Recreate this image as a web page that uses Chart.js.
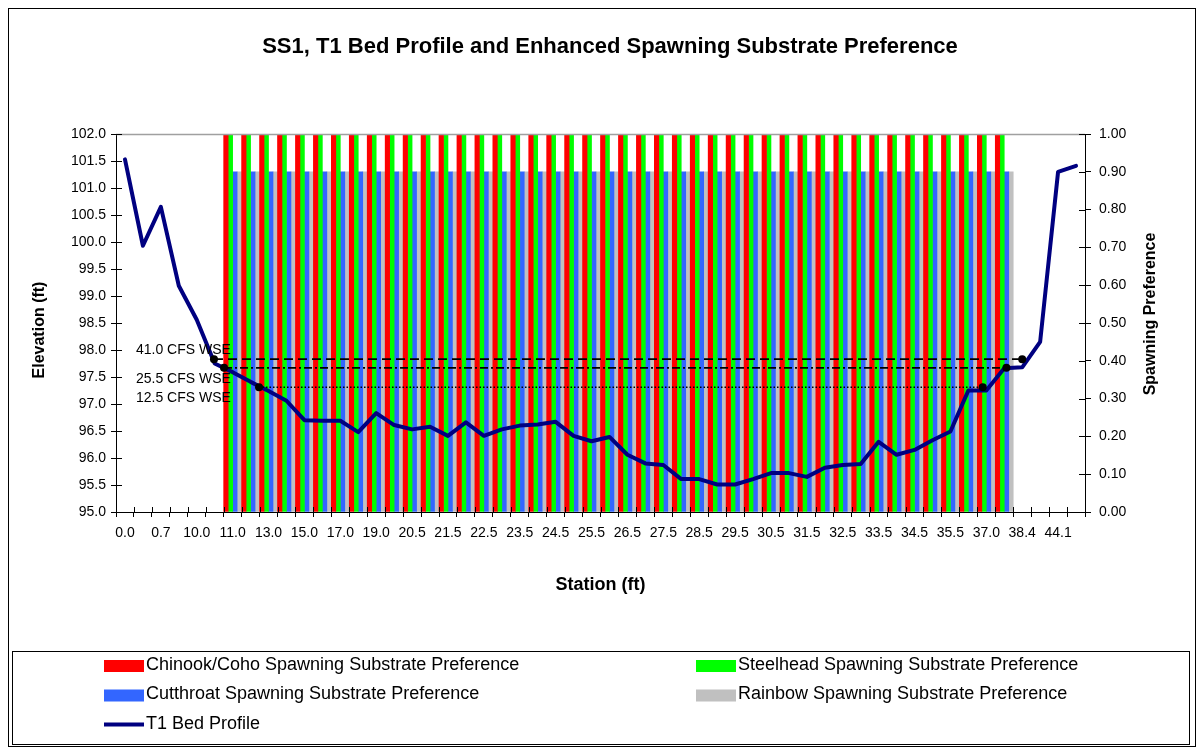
<!DOCTYPE html>
<html><head><meta charset="utf-8">
<script src="https://cdn.jsdelivr.net/npm/chart.js@4.4.1/dist/chart.umd.min.js"></script>
<style>
html,body{margin:0;padding:0;background:#fff;}
#wrap{position:relative;width:1203px;height:749px;}
</style></head><body>
<div id="wrap"><canvas id="c" width="1203" height="749"></canvas></div>
<script>
const FONT = '"Liberation Sans", Arial, Helvetica, sans-serif';

const stations = [0.0, 0.3, 0.7, 5.0, 10.0, 10.5, 11.0, 12.0, 13.0, 14.0,
  15.0, 16.0, 17.0, 18.0, 19.0, 20.0, 20.5, 21.0, 21.5, 22.0,
  22.5, 23.0, 23.5, 24.0, 24.5, 25.0, 25.5, 26.0, 26.5, 27.0,
  27.5, 28.0, 28.5, 29.0, 29.5, 30.0, 30.5, 31.0, 31.5, 32.0,
  32.5, 33.0, 33.5, 34.0, 34.5, 35.0, 35.5, 36.0, 37.0, 37.5,
  38.4, 41.0, 44.1, 46.0];

const bedProfile = [101.53, 99.93, 100.65, 99.19, 98.56, 97.75, 97.59, 97.41, 97.24, 97.06,
  96.70, 96.69, 96.69, 96.48, 96.83, 96.61, 96.53, 96.58, 96.41, 96.66,
  96.41, 96.53, 96.60, 96.62, 96.67, 96.41, 96.31, 96.39, 96.06, 95.90,
  95.87, 95.61, 95.61, 95.51, 95.51, 95.61, 95.72, 95.72, 95.65, 95.82,
  95.87, 95.89, 96.30, 96.06, 96.15, 96.33, 96.49, 97.25, 97.25, 97.66,
  97.68, 98.15, 101.30, 101.41];

const chinookPref = [null, null, null, null, null, null, 1, 1, 1, 1,
  1, 1, 1, 1, 1, 1, 1, 1, 1, 1,
  1, 1, 1, 1, 1, 1, 1, 1, 1, 1,
  1, 1, 1, 1, 1, 1, 1, 1, 1, 1,
  1, 1, 1, 1, 1, 1, 1, 1, 1, 1,
  null, null, null, null];
const steelheadPref = [null, null, null, null, null, null, 1, 1, 1, 1,
  1, 1, 1, 1, 1, 1, 1, 1, 1, 1,
  1, 1, 1, 1, 1, 1, 1, 1, 1, 1,
  1, 1, 1, 1, 1, 1, 1, 1, 1, 1,
  1, 1, 1, 1, 1, 1, 1, 1, 1, 1,
  null, null, null, null];
const cutthroatPref = [null, null, null, null, null, null, 0.9, 0.9, 0.9, 0.9,
  0.9, 0.9, 0.9, 0.9, 0.9, 0.9, 0.9, 0.9, 0.9, 0.9,
  0.9, 0.9, 0.9, 0.9, 0.9, 0.9, 0.9, 0.9, 0.9, 0.9,
  0.9, 0.9, 0.9, 0.9, 0.9, 0.9, 0.9, 0.9, 0.9, 0.9,
  0.9, 0.9, 0.9, 0.9, 0.9, 0.9, 0.9, 0.9, 0.9, 0.9,
  null, null, null, null];
const rainbowPref = [null, null, null, null, null, null, 0.9, 0.9, 0.9, 0.9,
  0.9, 0.9, 0.9, 0.9, 0.9, 0.9, 0.9, 0.9, 0.9, 0.9,
  0.9, 0.9, 0.9, 0.9, 0.9, 0.9, 0.9, 0.9, 0.9, 0.9,
  0.9, 0.9, 0.9, 0.9, 0.9, 0.9, 0.9, 0.9, 0.9, 0.9,
  0.9, 0.9, 0.9, 0.9, 0.9, 0.9, 0.9, 0.9, 0.9, 0.9,
  null, null, null, null];

// water surface elevations: x = position in station-index units (fractional), y = elevation (ft)
const wse41 = [{x: 4.96, y: 97.83}, {x: 50.0, y: 97.83}];
const wse25 = [{x: 5.52, y: 97.67}, {x: 49.12, y: 97.67}];
const wse12 = [{x: 7.47, y: 97.31}, {x: 47.8, y: 97.31}];

const elevTicks = {min: 95, max: 102, step: 0.5};
const prefTicks = {min: 0, max: 1, step: 0.1};

const TITLE = 'SS1, T1 Bed Profile and Enhanced Spawning Substrate Preference';

function vText(ctx, text, x, y, font) {
  ctx.save();
  ctx.translate(x, y);
  ctx.rotate(-Math.PI / 2);
  ctx.fillStyle = '#000';
  ctx.font = font;
  ctx.textAlign = 'center';
  ctx.textBaseline = 'middle';
  ctx.fillText(text, 0, 0);
  ctx.restore();
}

const frame = {
  id: 'frame',
  beforeDraw(chart) {
    const ctx = chart.ctx;
    ctx.save();
    ctx.fillStyle = '#fff';
    ctx.fillRect(0, 0, chart.width, chart.height);
    ctx.strokeStyle = '#000';
    ctx.lineWidth = 1;
    ctx.strokeRect(8.5, 8.5, 1187, 738);
    ctx.fillStyle = '#000';
    ctx.font = 'bold 22px ' + FONT;
    ctx.textAlign = 'center';
    ctx.textBaseline = 'middle';
    ctx.fillText(TITLE, 610, 47);
    ctx.restore();
  },
  afterDatasetsDraw(chart) {
    const ctx = chart.ctx;
    const a = chart.chartArea;
    ctx.save();
    // top border of plot area
    ctx.strokeStyle = '#a0a0a0';
    ctx.lineWidth = 1.5;
    ctx.beginPath();
    ctx.moveTo(a.left, a.top + 0.5);
    ctx.lineTo(a.right, a.top + 0.5);
    ctx.stroke();
    // inner tick marks (ticks cross the axes)
    ctx.strokeStyle = '#000';
    ctx.lineWidth = 1;
    const xs = chart.scales.x, ys = chart.scales.y, y2 = chart.scales.y2;
    const n = xs.ticks.length;
    const w = (xs.right - xs.left) / n;
    ctx.beginPath();
    for (let i = 0; i <= n; i++) {
      const px = Math.round(xs.left + i * w) + 0.5;
      ctx.moveTo(px, a.bottom);
      ctx.lineTo(px, a.bottom - 5);
    }
    ys.ticks.forEach(t => {
      const py = Math.round(ys.getPixelForValue(t.value)) + 0.5;
      ctx.moveTo(a.left, py); ctx.lineTo(a.left + 6, py);
    });
    y2.ticks.forEach(t => {
      const py = Math.round(y2.getPixelForValue(t.value)) + 0.5;
      ctx.moveTo(a.right, py); ctx.lineTo(a.right - 6, py);
    });
    ctx.stroke();
    // WSE labels
    ctx.fillStyle = '#000';
    ctx.font = '14px ' + FONT;
    ctx.textAlign = 'right';
    ctx.textBaseline = 'middle';
    chart.data.datasets.forEach((d, i) => {
      if (!d.wseLabel) return;
      const p = chart.getDatasetMeta(i).data[0];
      ctx.fillText(d.wseLabel, xs.getPixelForValue(5.9), p.y + d.labelDy);
    });
    ctx.restore();
  },
  afterDraw(chart) {
    const ctx = chart.ctx;
    vText(ctx, 'Elevation (ft)', 40, 330, 'bold 16px ' + FONT);
    vText(ctx, 'Spawning Preference', 1151, 314, 'bold 16px ' + FONT);
    // legend
    ctx.save();
    ctx.strokeStyle = '#000';
    ctx.lineWidth = 1;
    ctx.strokeRect(12.5, 651.5, 1177, 93);
    const items = chart.data.datasets.filter(d => d.inLegend);
    ctx.font = '18px ' + FONT;
    ctx.textAlign = 'left';
    ctx.textBaseline = 'middle';
    items.forEach((d, i) => {
      const col = i % 2, row = Math.floor(i / 2);
      const x = col ? 696 : 104;
      const y = 665 + row * 29.5;
      if (d.type === 'line') {
        ctx.strokeStyle = d.borderColor;
        ctx.lineWidth = 4;
        ctx.beginPath();
        ctx.moveTo(x, y + 0.5);
        ctx.lineTo(x + 40, y + 0.5);
        ctx.stroke();
      } else {
        ctx.fillStyle = d.backgroundColor;
        ctx.fillRect(x, y - 5, 40, 12);
      }
      ctx.fillStyle = '#000';
      ctx.fillText(d.label, x + 42, y);
    });
    ctx.restore();
  }
};

const tickFont = {family: FONT, size: 14};
const wseStyle = {type: 'line', parsing: false, borderColor: '#000', backgroundColor: '#000',
  pointRadius: 4, pointBackgroundColor: '#000', pointBorderWidth: 0, xAxisID: 'x', yAxisID: 'y', order: 1};

new Chart(document.getElementById('c'), {
  data: {
    labels: stations.map(s => s.toFixed(1)),
    datasets: [
      {type: 'bar', label: 'Chinook/Coho Spawning Substrate Preference', data: chinookPref,
        backgroundColor: '#FF0000', yAxisID: 'y2', xAxisID: 'x', order: 3, inLegend: true,
        barPercentage: 1, categoryPercentage: 1, borderWidth: 0},
      {type: 'bar', label: 'Steelhead Spawning Substrate Preference', data: steelheadPref,
        backgroundColor: '#00FF00', yAxisID: 'y2', xAxisID: 'x', order: 3, inLegend: true,
        barPercentage: 1, categoryPercentage: 1, borderWidth: 0},
      {type: 'bar', label: 'Cutthroat Spawning Substrate Preference', data: cutthroatPref,
        backgroundColor: '#3366FF', yAxisID: 'y2', xAxisID: 'x', order: 3, inLegend: true,
        barPercentage: 1, categoryPercentage: 1, borderWidth: 0},
      {type: 'bar', label: 'Rainbow Spawning Substrate Preference', data: rainbowPref,
        backgroundColor: '#C0C0C0', yAxisID: 'y2', xAxisID: 'x', order: 3, inLegend: true,
        barPercentage: 1, categoryPercentage: 1, borderWidth: 0},
      {type: 'line', label: 'T1 Bed Profile', data: bedProfile, borderColor: '#000080',
        backgroundColor: '#000080', borderWidth: 4, pointRadius: 0, tension: 0,
        yAxisID: 'y', xAxisID: 'x', order: 2, inLegend: true, borderJoinStyle: 'round', borderCapStyle: 'round'},
      Object.assign({}, wseStyle, {label: '41.0 CFS WSE', wseLabel: '41.0 CFS WSE', labelDy: -9, data: wse41,
        borderWidth: 1.8, borderDash: [9, 5]}),
      Object.assign({}, wseStyle, {label: '25.5 CFS WSE', wseLabel: '25.5 CFS WSE', labelDy: 11, data: wse25,
        borderWidth: 1.8, borderDash: [8, 3, 2, 3]}),
      Object.assign({}, wseStyle, {label: '12.5 CFS WSE', wseLabel: '12.5 CFS WSE', labelDy: 11, data: wse12,
        borderWidth: 1.5, borderDash: [1.5, 2]})
    ]
  },
  options: {
    responsive: false,
    animation: false,
    layout: {padding: {left: 0, right: 0, top: 134, bottom: 149}},
    plugins: {legend: {display: false}, title: {display: false}, tooltip: {enabled: false}},
    scales: {
      x: {
        type: 'category', offset: true,
        grid: {offset: true, drawOnChartArea: false, drawTicks: true, tickLength: 5, color: '#000'},
        border: {color: '#000', width: 1},
        ticks: {autoSkip: false, maxRotation: 0, minRotation: 0, padding: 8, color: '#000', font: tickFont,
          callback: function (v, i) { return i % 2 === 0 ? this.getLabelForValue(v) : ''; }},
        title: {display: true, text: 'Station (ft)', color: '#000',
          font: {family: FONT, size: 18, weight: 'bold'}, padding: {top: 0, bottom: 4}},
        afterFit(s) { s.height = 88; }
      },
      y: {
        position: 'left', min: elevTicks.min, max: elevTicks.max,
        grid: {drawOnChartArea: false, tickLength: 5, color: '#000'},
        border: {color: '#000', width: 1},
        ticks: {stepSize: elevTicks.step, padding: 5, color: '#000', font: tickFont,
          callback: v => v.toFixed(1)},
        afterFit(s) { s.width = 116; }
      },
      y2: {
        position: 'right', min: prefTicks.min, max: prefTicks.max,
        grid: {drawOnChartArea: false, tickLength: 6, color: '#000'},
        border: {color: '#000', width: 1},
        ticks: {stepSize: prefTicks.step, padding: 8, color: '#000', font: tickFont,
          callback: v => v.toFixed(2)},
        afterFit(s) { s.width = 118; }
      }
    }
  },
  plugins: [frame]
});
</script>
</body></html>
